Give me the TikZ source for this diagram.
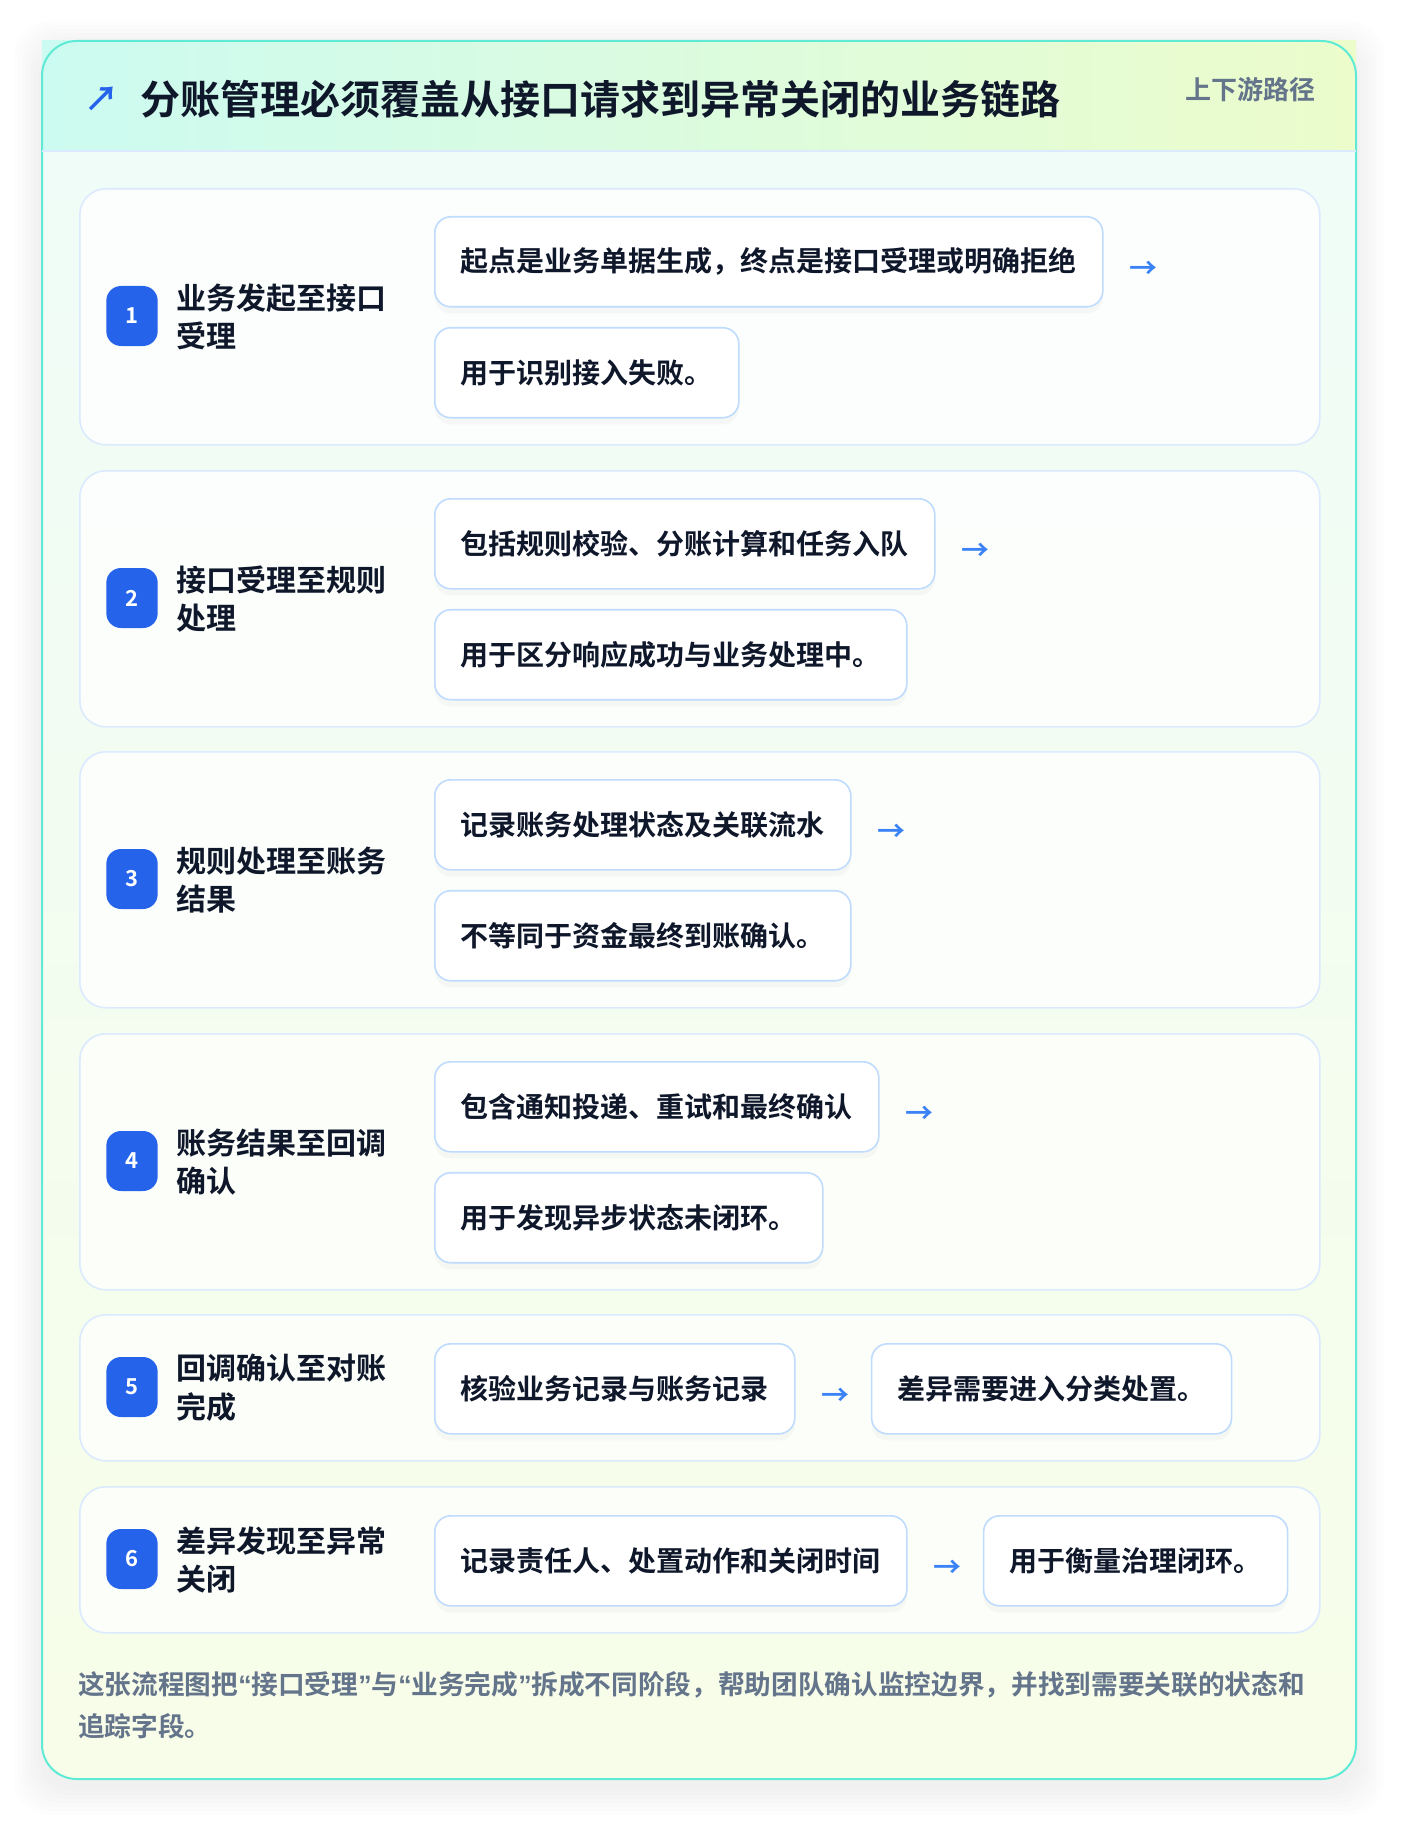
\documentclass[tikz,border=0pt]{standalone}
\usepackage{fontspec}
\setmainfont{Noto Sans CJK SC}[BoldFont={Noto Sans CJK SC Bold}]
\newfontfamily\quotefont{Liberation Sans}[BoldFont={Liberation Sans Bold}]
\newcommand{\openq}{{\quotefont\bfseries “}}
\newcommand{\closeq}{{\quotefont\bfseries ”}}
\usetikzlibrary{positioning,shadows}

\definecolor{ink}{HTML}{0F172A}
\definecolor{muted}{HTML}{64748B}
\definecolor{badgeblue}{HTML}{2563EB}
\definecolor{arrowblue}{HTML}{3B82F6}
\definecolor{boxline}{HTML}{BFDBFE}
\definecolor{stageline}{HTML}{DBEAFE}
\definecolor{cardline}{HTML}{5EEAD4}
\definecolor{cardtop}{HTML}{EFFCF8}
\definecolor{cardbot}{HTML}{F7FDE8}
\definecolor{headleft}{HTML}{CCFBF1}
\definecolor{headright}{HTML}{ECFCCB}

\tikzset{
  stagebox/.style={draw=stageline, line width=1.2pt, fill=white, fill opacity=0.75,
    rounded corners=19.5pt, anchor=north west, minimum width=930pt, inner sep=0pt},
  badge/.style={fill=badgeblue, rounded corners=11pt, minimum width=38.5pt,
    minimum height=45pt, inner sep=0pt, text=white, font=\fontsize{16.5}{18}\selectfont\bfseries},
  stagetitle/.style={anchor=west, align=left, text=ink, inner sep=0pt,
    font=\fontsize{22.5}{29}\selectfont\bfseries},
  contentbox/.style={draw=boxline, line width=1.2pt, fill=white, rounded corners=12pt,
    minimum height=67.5pt, inner xsep=19.5pt, inner ysep=0pt, text=ink,
    font=\fontsize{21}{25}\selectfont\bfseries,
    drop shadow={opacity=0.05, shadow xshift=0pt, shadow yshift=-5pt}},
  flowarrow/.style={text=arrowblue, inner sep=0pt, yshift=-6pt,
    font=\fontsize{21}{25}\selectfont\bfseries}
}

\begin{document}
\begin{tikzpicture}[x=0.75pt,y=-0.75pt]
  \fill[white] (0,0) rectangle (1400,1826);

  \foreach \r in {4,8,...,28}
    \fill[black, opacity=0.008, rounded corners=26pt] (42-\r,41-\r+8) rectangle (1356+\r,1779+\r+8);

  \shade[top color=cardtop, bottom color=cardbot, rounded corners=26pt] (42,41) rectangle (1356,1779);
  \shade[left color=headleft, right color=headright] (42,41) rectangle (1356,151);
  \draw[cardline, line width=1.5pt, rounded corners=26pt] (42,41) rectangle (1356,1779);
  \draw[stageline, line width=1.2pt] (42,151) -- (1356,151);

  \node[text=badgeblue, inner sep=0pt, font=\fontsize{26}{30}\selectfont\bfseries] (icon) at (102,99) {↗};
  \node[anchor=west, text=ink, inner sep=0pt, font=\fontsize{30}{36}\selectfont\bfseries]
    (heading) at (140,99) {分账管理必须覆盖从接口请求到异常关闭的业务链路};
  \node[anchor=east, text=muted, inner sep=0pt, font=\fontsize{19.5}{24}\selectfont\bfseries]
    (tag) at (1316,90) {上下游路径};

  \foreach \n/\sy/\ttl/\ta/\tb in {
      1/188/{业务发起至接口\\受理}/{起点是业务单据生成，终点是接口受理或明确拒绝}/{用于识别接入失败。},
      2/470/{接口受理至规则\\处理}/{包括规则校验、分账计算和任务入队}/{用于区分响应成功与业务处理中。},
      3/751/{规则处理至账务\\结果}/{记录账务处理状态及关联流水}/{不等同于资金最终到账确认。},
      4/1033/{账务结果至回调\\确认}/{包含通知投递、重试和最终确认}/{用于发现异步状态未闭环。}} {
    \node[stagebox, minimum height=192pt] (s\n) at (79,\sy) {};
    \node[badge] (b\n) at (132,\sy+128) {\n};
    \node[stagetitle] (t\n) at (176,\sy+129) {\ttl};
    \node[contentbox, anchor=north west] (s\n-a) at (434,\sy+28) {\ta};
    \node[contentbox, below right=14.5pt and 0pt of s\n-a.south west] (s\n-b) {\tb};
    \node[flowarrow, right=19pt of s\n-a] (s\n-arr) {→};
  }

  \foreach \n/\sy/\ttl/\ta/\tb in {
      5/1314/{回调确认至对账\\完成}/{核验业务记录与账务记录}/{差异需要进入分类处置。},
      6/1486/{差异发现至异常\\关闭}/{记录责任人、处置动作和关闭时间}/{用于衡量治理闭环。}} {
    \node[stagebox, minimum height=109.5pt] (s\n) at (79,\sy) {};
    \node[badge] (b\n) at (132,\sy+73) {\n};
    \node[stagetitle] (t\n) at (176,\sy+74) {\ttl};
    \node[contentbox, anchor=north west] (s\n-a) at (434,\sy+29) {\ta};
    \node[flowarrow, right=19pt of s\n-a] (s\n-arr) {→};
    \node[contentbox, anchor=west, xshift=16pt] (s\n-b) at (s\n-arr.east |- s\n-a.west) {\tb};
  }

  \node[anchor=west, align=left, text=muted, inner sep=0pt,
    font=\fontsize{20}{31.5}\selectfont\bfseries] (note) at (78,1705)
    {这张流程图把\openq 接口受理\closeq 与\openq 业务完成\closeq 拆成不同阶段，帮助团队确认监控边界，并找到需要关联的状态和\\追踪字段。};
\end{tikzpicture}
\end{document}
